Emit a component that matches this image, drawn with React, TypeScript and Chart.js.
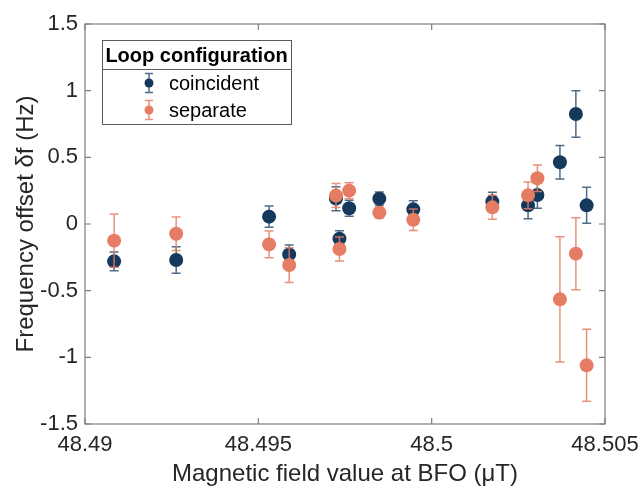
import React, { useEffect, useRef } from "react";
import { Chart, registerables } from "chart.js";

Chart.register(...registerables);

const X_TICKS = [48.49, 48.495, 48.5, 48.505];
const Y_TICKS = [-1.5, -1, -0.5, 0, 0.5, 1, 1.5];

const SERIES_LABELS = ["coincident", "separate"];
const LEGEND_TITLE = "Loop configuration";
const X_TITLE = "Magnetic field value at BFO (\u03bcT)";
const Y_TITLE = "Frequency offset \u03b4f (Hz)";

const COINC_X = [48.49084, 48.49263, 48.49531, 48.49589, 48.49724, 48.49734, 48.49762, 48.49849, 48.49947, 48.50175, 48.50278, 48.50305, 48.5037, 48.50416, 48.50447];
const COINC_Y = [-0.28, -0.27, 0.055, -0.228, 0.19, -0.11, 0.118, 0.19, 0.11, 0.168, 0.14, 0.2175, 0.463, 0.825, 0.14];
const COINC_ERR = [0.07, 0.1, 0.08, 0.07, 0.09, 0.06, 0.06, 0.05, 0.065, 0.07, 0.1, 0.1, 0.125, 0.175, 0.135];

const SEP_X = [48.49084, 48.49263, 48.49531, 48.49589, 48.49724, 48.49734, 48.49762, 48.49849, 48.49947, 48.50175, 48.50278, 48.50305, 48.5037, 48.50416, 48.50447];
const SEP_Y = [-0.125, -0.073, -0.153, -0.308, 0.213, -0.1875, 0.25, 0.085, 0.032, 0.125, 0.215, 0.343, -0.565, -0.2225, -1.06];
const SEP_ERR = [0.2, 0.125, 0.1, 0.13, 0.09, 0.09, 0.06, 0.04, 0.08, 0.09, 0.1, 0.1, 0.47, 0.27, 0.27];

const NAVY = "#15395d";
const NAVY_BAR = "rgba(21,57,93,0.75)";
const SALMON = "#e67c64";
const SALMON_BAR = "rgba(230,124,100,0.85)";
const FONT = "'Liberation Sans', Arial, Helvetica, sans-serif";
const TEXT = "#262626";
const AXIS = "#7d7d7d";
const CAP = 4.5;

const fmt = (v: number) => String(Number(v.toFixed(4)));

const errorBarPlugin = {
  id: "errorBars",
  beforeDatasetDraw(chart: any, args: any) {
    const ds: any = chart.data.datasets[args.index];
    const errs: number[] = ds.errors;
    if (!errs) return;
    const xs = chart.scales.x;
    const ys = chart.scales.y;
    const ctx = chart.ctx;
    ctx.save();
    ctx.strokeStyle = ds.errorColor;
    ctx.lineWidth = 1.5;
    ds.data.forEach((p: any, i: number) => {
      const px = xs.getPixelForValue(p.x);
      const y1 = ys.getPixelForValue(p.y + errs[i]);
      const y2 = ys.getPixelForValue(p.y - errs[i]);
      ctx.beginPath();
      ctx.moveTo(px, y1);
      ctx.lineTo(px, y2);
      ctx.moveTo(px - CAP, y1);
      ctx.lineTo(px + CAP, y1);
      ctx.moveTo(px - CAP, y2);
      ctx.lineTo(px + CAP, y2);
      ctx.stroke();
    });
    ctx.restore();
  },
};

const boxPlugin = {
  id: "axesBox",
  afterDatasetsDraw(chart: any) {
    const { ctx, chartArea } = chart;
    const { left, right, top, bottom } = chartArea;
    const xs = chart.scales.x;
    const ys = chart.scales.y;
    const tl = 6;
    ctx.save();
    ctx.strokeStyle = AXIS;
    ctx.lineWidth = 1.2;
    ctx.strokeRect(left, top, right - left, bottom - top);
    ctx.beginPath();
    X_TICKS.forEach((v) => {
      const px = xs.getPixelForValue(v);
      ctx.moveTo(px, bottom);
      ctx.lineTo(px, bottom - tl);
      ctx.moveTo(px, top);
      ctx.lineTo(px, top + tl);
    });
    Y_TICKS.forEach((v) => {
      const py = ys.getPixelForValue(v);
      ctx.moveTo(left, py);
      ctx.lineTo(left + tl, py);
      ctx.moveTo(right, py);
      ctx.lineTo(right - tl, py);
    });
    ctx.stroke();
    ctx.restore();
  },
};

const legendPlugin = {
  id: "customLegend",
  afterDraw(chart: any) {
    const { ctx, chartArea } = chart;
    const bx = chartArea.left + 17;
    const by = chartArea.top + 16;
    const bw = 189;
    const bh = 84;
    ctx.save();
    ctx.fillStyle = "#ffffff";
    ctx.fillRect(bx, by, bw, bh);
    ctx.strokeStyle = "#5a5a5a";
    ctx.lineWidth = 1;
    ctx.strokeRect(bx + 0.5, by + 0.5, bw, bh);
    ctx.beginPath();
    ctx.moveTo(bx, by + 29.5);
    ctx.lineTo(bx + bw, by + 29.5);
    ctx.stroke();
    ctx.fillStyle = "#000000";
    ctx.font = `bold 20px ${FONT}`;
    ctx.textAlign = "center";
    ctx.textBaseline = "middle";
    ctx.fillText(LEGEND_TITLE, bx + bw / 2, by + 16);
    const ds = chart.data.datasets;
    const order = [1, 0];
    SERIES_LABELS.forEach((label, k) => {
      const d: any = ds[order[k]];
      const cy = by + 43 + k * 27;
      const mx = bx + 47;
      ctx.strokeStyle = d.errorColor;
      ctx.lineWidth = 1.5;
      ctx.beginPath();
      ctx.moveTo(mx, cy - 9.5);
      ctx.lineTo(mx, cy + 9.5);
      ctx.moveTo(mx - 4, cy - 9.5);
      ctx.lineTo(mx + 4, cy - 9.5);
      ctx.moveTo(mx - 4, cy + 9.5);
      ctx.lineTo(mx + 4, cy + 9.5);
      ctx.stroke();
      ctx.fillStyle = d.backgroundColor;
      ctx.beginPath();
      ctx.arc(mx, cy, 4.5, 0, Math.PI * 2);
      ctx.fill();
      ctx.fillStyle = "#000000";
      ctx.font = `20px ${FONT}`;
      ctx.textAlign = "left";
      ctx.fillText(label, bx + 67, cy + 1);
    });
    ctx.restore();
  },
};

export default function App() {
  const ref = useRef<HTMLCanvasElement | null>(null);
  useEffect(() => {
    if (!ref.current) return;
    const chart = new Chart(ref.current, {
      type: "scatter",
      data: {
        datasets: [
          {
            label: SERIES_LABELS[1],
            data: SEP_X.map((x, i) => ({ x, y: SEP_Y[i] })),
            backgroundColor: SALMON,
            borderColor: SALMON,
            borderWidth: 0,
            pointRadius: 7,
            order: 1,
            errors: SEP_ERR,
            errorColor: SALMON_BAR,
          } as any,
          {
            label: SERIES_LABELS[0],
            data: COINC_X.map((x, i) => ({ x, y: COINC_Y[i] })),
            backgroundColor: NAVY,
            borderColor: NAVY,
            borderWidth: 0,
            pointRadius: 7,
            order: 2,
            errors: COINC_ERR,
            errorColor: NAVY_BAR,
          } as any,
        ],
      },
      options: {
        responsive: false,
        maintainAspectRatio: false,
        animation: false,
        layout: { padding: { top: 24, right: 37, left: 0, bottom: 0 } },
        plugins: { legend: { display: false }, tooltip: { enabled: false } },
        scales: {
          x: {
            type: "linear",
            min: X_TICKS[0],
            max: X_TICKS[X_TICKS.length - 1],
            grid: { display: false, drawTicks: false },
            border: { display: false },
            afterBuildTicks: (s: any) => {
              s.ticks = X_TICKS.map((v) => ({ value: v }));
            },
            afterFit: (s: any) => {
              s.height = 64;
              s.paddingLeft = 0;
              s.paddingRight = 0;
            },
            ticks: {
              callback: (v: any) => fmt(Number(v)),
              font: { size: 22, family: FONT },
              color: TEXT,
              padding: 8,
              maxRotation: 0,
              autoSkip: false,
            },
            title: {
              display: true,
              text: X_TITLE,
              font: { size: 24, family: FONT, lineHeight: 1 },
              color: TEXT,
              padding: { top: 0, bottom: 2 },
            },
          },
          y: {
            type: "linear",
            min: Y_TICKS[0],
            max: Y_TICKS[Y_TICKS.length - 1],
            grid: { display: false, drawTicks: false },
            border: { display: false },
            afterBuildTicks: (s: any) => {
              s.ticks = Y_TICKS.map((v) => ({ value: v }));
            },
            afterFit: (s: any) => {
              s.width = 85;
            },
            ticks: {
              callback: (v: any) => fmt(Number(v)),
              font: { size: 22, family: FONT },
              color: TEXT,
              padding: 7,
              autoSkip: false,
            },
            title: {
              display: true,
              text: Y_TITLE,
              font: { size: 24, family: FONT, lineHeight: 1 },
              color: TEXT,
              padding: { top: 14, bottom: 0 },
            },
          },
        },
      },
      plugins: [errorBarPlugin, boxPlugin, legendPlugin],
    });
    return () => chart.destroy();
  }, []);
  return (
    <div style={{ position: "absolute", left: 0, top: 0, width: 642, height: 488, background: "#ffffff" }}>
      <canvas ref={ref} width={642} height={488} style={{ display: "block" }} />
    </div>
  );
}
